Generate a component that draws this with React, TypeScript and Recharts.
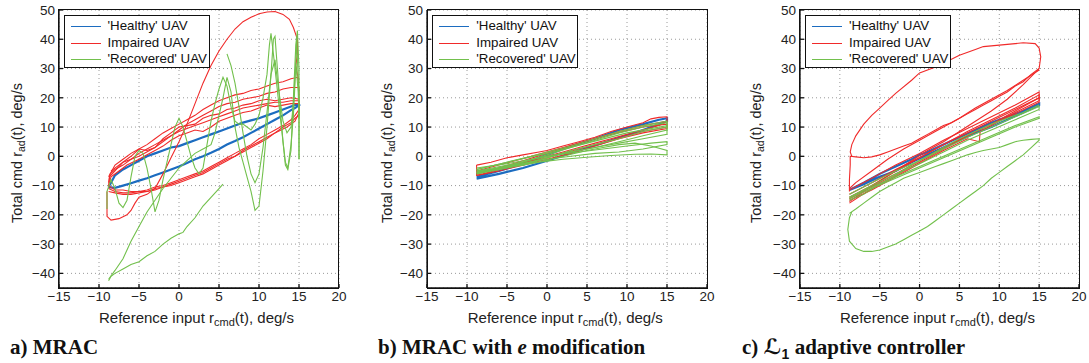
import React from 'react';
import { LineChart, Line, XAxis, YAxis, CartesianGrid } from 'recharts';

type Pt = [number, number];

const xTicks = [-15, -10, -5, 0, 5, 10, 15, 20];
const yTicks = [-40, -30, -20, -10, 0, 10, 20, 30, 40, 50];
const xDomain: [number, number] = [-15, 20];
const yDomain: [number, number] = [-45, 50];

const seriesNames = ["'Healthy' UAV", 'Impaired UAV', "'Recovered' UAV"];
const seriesColors = ['#1c6cc0', '#f02a2a', '#72c04c'];

// ---- a) MRAC ----
const mracHealthy: Pt[] = [
  [-8.8, -10.5], [-8.5, -9], [-8, -6.5], [-7, -4.5], [-6, -3], [-5, -1.5], [-4, 0], [-3, 1], [-2, 2], [-1, 3],
  [0, 3.5], [1, 4.5], [2, 5.5], [3, 6.5], [4, 7.5], [5, 8.5], [6, 9.5], [7, 10.5], [8, 11.5], [9, 12.3],
  [10, 13], [11, 14], [12, 15], [13, 16], [14, 17], [14.8, 17.8], [15, 17.5], [14.5, 16.5], [14, 15.8],
  [13, 14], [12, 12.5], [11, 11], [10, 9.5], [9, 8], [8, 6.5], [7, 5.2], [6, 4], [5, 2.5], [4, 1.2],
  [3, 0], [2, -1], [1, -2.3], [0, -3.5], [-1, -4.5], [-2, -5.5], [-3, -6.5], [-4, -7.5], [-5, -8.3],
  [-6, -9.2], [-7, -10], [-8, -10.8], [-8.8, -10.5],
];

const mracImpairedBand1: Pt[] = [
  [-8.8, -9], [-8.6, -6], [-8, -4.5], [-7, -3], [-6, -1], [-5, 1], [-4, 2.5], [-3, 4], [-2, 5.5], [-1, 7],
  [0, 8.5], [1, 9.5], [2, 10.5], [3, 11.5], [4, 12.5], [5, 13.5], [6, 14.5], [7, 15.5], [8, 16.5], [9, 17],
  [10, 17.5], [11, 18], [12, 18.5], [13, 18.5], [14, 19], [15, 19], [15, 16], [14.5, 14], [14, 12.5],
  [13, 10.5], [12, 9], [11, 7.5], [10, 6], [9, 4], [8, 2.5], [7, 1], [6, -0.5], [5, -2], [4, -3.5],
  [3, -5], [2, -6], [1, -7], [0, -8], [-1, -9], [-2, -10], [-3, -10.5], [-4, -11.5], [-5, -12],
  [-6, -12.5], [-7, -12.5], [-8, -12], [-8.8, -11],
];
const mracImpairedBand2: Pt[] = [
  [-8.8, -11], [-8.7, -7], [-8, -5], [-7, -2], [-6, 0], [-5, 2.5], [-4, 2], [-3, 3], [-2, 6], [-1, 8],
  [0, 10], [1, 10.5], [2, 11], [3, 13], [4, 14], [5, 14.5], [6, 16], [7, 16.5], [8, 17.5], [9, 18],
  [10, 19], [11, 19.5], [12, 19], [13, 19.5], [14, 20], [15, 19.5], [15, 14], [14.5, 13], [14, 11.5],
  [13, 10], [12, 8], [11, 6.5], [10, 5], [9, 3.5], [8, 2], [7, 0], [6, -1], [5, -2.5], [4, -4],
  [3, -5.5], [2, -6.5], [1, -7.5], [0, -8.5], [-1, -9.5], [-2, -10.5], [-3, -11.5], [-4, -12],
  [-5, -12.5], [-6, -13], [-7, -13], [-8, -12.5], [-8.8, -12],
];
const mracImpairedBand3: Pt[] = [
  [-8.8, -10], [-8.5, -7], [-7.5, -5], [-6.5, -3], [-5, -1], [-4, 0.5], [-3, 2], [-2, 3.5], [-1, 5.5],
  [0, 7], [1, 8], [2, 9], [3, 8.5], [4, 10], [5, 12], [6, 13], [7, 14], [8, 15], [9, 15.5], [10, 16.5],
  [11, 17.5], [12, 17], [13, 17.5], [14, 18], [15, 18], [15, 15], [14.5, 12], [13.5, 10], [12, 8],
  [11, 6], [10, 4.5], [9, 3], [8, 1.5], [7, 0], [6, -1.5], [5, -3], [4, -4.5], [3, -6], [2, -7],
  [1, -8], [0, -9], [-1, -10], [-2, -10.5], [-3, -11], [-4, -12], [-5, -12], [-6, -12], [-7, -11.5],
  [-8, -11.5], [-8.8, -10],
];
const mracImpairedOuter1: Pt[] = [
  [-8.8, -7], [-8, -3], [-7, -1], [-6, 1], [-5, 2.5], [-4, 4], [-3, 6], [-2, 8], [-1, 9.5], [0, 11],
  [1, 12.5], [2, 14], [3, 16], [4, 17.5], [5, 19], [6, 20], [7, 21], [8, 21.5], [9, 22.5], [10, 23],
  [11, 24], [12, 25], [13, 25.5], [14, 26.5], [14.8, 27], [15, 25],
];
const mracImpairedOuter2: Pt[] = [
  [-8.5, -5], [-7, -2], [-5, 0], [-3, 3], [-1, 7], [0, 9], [1, 11], [2, 12.5], [3, 14], [4, 15.5],
  [5, 17], [6, 18], [7, 18.5], [8, 19.5], [9, 20], [10, 20.5], [11, 21.5], [12, 22], [13, 23],
  [14, 23.5], [15, 23.5], [15, 20],
];
const mracImpairedBigLoop: Pt[] = [
  [-9, -12], [-9, -17], [-9, -20.5], [-8.5, -21.8], [-7.5, -21.3], [-6.5, -20], [-6, -18.5], [-5.5, -16],
  [-5, -14], [-4, -13], [-3, -11], [-2, -6], [-1, -0.5], [0, 5], [1, 11], [2, 18], [3, 25], [4, 31],
  [5, 36], [6, 40], [7, 43.5], [8, 46], [9, 47.5], [10, 48.7], [11, 49.3], [12, 49.5], [13, 48.5],
  [13.8, 46.8], [14.3, 44], [14.8, 40], [14.8, 35], [14.6, 31], [14.8, 28], [15, 26],
];

const mracRecoveredDiag: Pt[] = [
  [-8.8, -42.5], [-8.5, -41], [-8, -40], [-7, -38.5], [-6, -37], [-5, -36], [-4, -34], [-3, -32.5],
  [-2, -30], [-1, -28], [0, -26.5], [0.5, -26], [1, -24], [2, -21], [3, -17], [4, -14], [5, -11], [5.5, -9.5],
];
const mracRecoveredSteep: Pt[] = [
  [-8.8, -42], [-8, -39], [-7, -35], [-6, -29], [-5, -24], [-4, -19], [-3, -15], [-2, -11], [-1, -7.5],
  [0, -4], [1, -1.5], [2, 1], [3, 2.5], [4, 4], [4.5, 8], [5, 14], [5.5, 20], [6, 27], [6.5, 22], [7, 10],
  [7.5, 3], [8, -2], [8.5, -7], [9, -12], [9.5, -18.5], [10, -17], [10.5, -5], [11, 10], [11.5, 28],
  [11.8, 40], [12, 41], [12.3, 30], [12.7, 15], [13, 5], [13.3, -3], [13.6, -4.5], [14, 2], [14.3, 20],
  [14.6, 38], [14.8, 43], [15, 30], [15, 10], [15, -1],
];
const mracRecoveredOsc: Pt[] = [
  [-9, -18], [-9, -12], [-8.5, -8], [-8, -11], [-7.5, -16], [-7, -17.5], [-6.5, -15], [-6, -7], [-5.5, 0],
  [-5, 2], [-4.5, 1], [-4, -4], [-3.5, -11], [-3, -19], [-2.5, -15], [-2, -8], [-1.5, -2], [-1, 4],
  [-0.5, 10], [0, 13], [0.5, 10], [1, 5], [1.5, 0], [2, -4], [2.5, -6], [3, -4], [3.5, 4], [4, 12],
  [4.5, 18], [5, 23], [5.5, 27], [6, 24], [6.5, 17], [7, 12], [7.5, 11], [8, 11], [8.5, 10], [9, 9],
  [9.5, 11], [10, 14], [10.5, 20], [11, 28], [11.3, 38], [11.5, 42], [11.8, 35], [12.2, 25], [12.6, 15],
  [13, 5], [13.3, -2], [13.6, -4], [14, 4], [14.3, 14], [14.5, 25], [14.7, 40], [15, 20], [15, -1],
];
const mracRecoveredLate: Pt[] = [
  [6, 35], [6.5, 31], [7, 25], [7.5, 17], [8, 8], [8.5, 0], [9, -6], [9.5, -9], [10, -6], [10.5, 3],
  [11, 15], [11.5, 28], [12, 33], [12.3, 26], [12.7, 18], [13, 12], [13.5, 8], [14, 10], [14.3, 18],
  [14.6, 32], [14.9, 22], [15, 13],
];

// ---- b) MRAC with e modification ----
const emodHealthy: Pt[] = [
  [-8.8, -7], [-6, -5], [-3, -2.5], [0, 0.5], [3, 3.5], [6, 6], [9, 9], [12, 11], [14, 12.5], [15, 13],
  [15, 12], [12, 9], [8, 5.5], [4, 2], [0, -1.5], [-3, -4], [-6, -6], [-8.8, -7.6],
];
const emodImpaired1: Pt[] = [
  [-8.8, -3], [-7, -2], [-5, -0.5], [-3, 0.5], [-1, 1.5], [0, 2], [2, 3.5], [4, 5], [6, 6.5], [8, 8.5],
  [10, 10], [12, 11.5], [13, 12.8], [14, 13.3], [15, 13.5], [15, 12], [14, 10.5], [12, 9], [10, 7.5],
  [8, 6], [6, 4.5], [4, 3], [2, 1.5], [0, 0], [-2, -1.5], [-4, -3], [-6, -4.5], [-8, -6], [-8.8, -6.5], [-8.8, -3],
];
const emodImpaired2: Pt[] = [
  [-8.8, -6], [-6, -4], [-3, -1.5], [0, 1], [3, 3.5], [6, 6], [9, 8.5], [12, 10.5], [15, 12], [15, 9.5],
  [12, 8], [9, 6], [6, 3.5], [3, 1], [0, -1], [-3, -3], [-6, -5], [-8.8, -6.5],
];
const emodImpaired3: Pt[] = [
  [-8.8, -5], [-4, -1.5], [0, 1.5], [4, 4.5], [8, 7.5], [12, 10], [15, 11], [15, 10], [12, 8.5], [8, 5.5],
  [4, 2.5], [0, -0.5], [-4, -3], [-8.8, -5.5],
];
const emodRecovered1: Pt[] = [
  [-8.8, -6], [-6, -4], [-3, -2], [0, 0.5], [3, 3], [6, 5.5], [9, 8], [12, 10], [15, 11.5], [15, 10],
  [12, 8.5], [9, 6], [6, 4], [3, 2], [0, -0.5], [-3, -2.5], [-6, -4.5], [-8.8, -5.5],
];
const emodRecovered2: Pt[] = [
  [-8.8, -4.5], [-5, -2], [-2, 0], [0, 1.5], [3, 3.5], [6, 6], [9, 8.5], [12, 10.5], [15, 12], [15, 9],
  [12, 7], [9, 5], [6, 3], [3, 1.5], [0, -0.5], [-3, -3], [-8.8, -5],
];
const emodRecovered3: Pt[] = [
  [-8.8, -4], [-5, -2.5], [-2, -1], [1, 0.5], [4, 1.5], [7, 2.5], [10, 3.5], [13, 4.5], [15, 5], [15, 4],
  [12, 2.5], [9, 1.5], [6, 1], [3, 0], [0, -1], [-3, -2.5], [-6, -4], [-8.8, -5.5],
];
const emodRecovered4: Pt[] = [
  [-8.8, -5.5], [-6, -4], [-4, -3], [-1, -2], [2, -1], [5, -0.3], [8, 0.3], [11, 0.7], [13, 0.8],
  [15, 0.5], [15, 2], [13, 3.5], [11, 4.5], [9, 4], [7, 3], [5, 2], [2, 0], [-1, -2], [-4, -3.5], [-8.8, -6],
];
const emodRecovered5: Pt[] = [
  [-8.8, -4.5], [-5, -2], [0, 1], [5, 4.5], [10, 8], [15, 10.5], [15, 7.5], [12, 6], [9, 4.5], [6, 3],
  [3, 1.5], [0, 0], [-4, -2.5], [-8.8, -5],
];

// ---- c) L1 adaptive controller ----
const l1Healthy: Pt[] = [
  [-8.8, -11.5], [-7, -9], [-5, -6], [-3, -3.5], [-1, -1], [0, 0.5], [1, 1.5], [3, 4], [5, 6.5], [7, 9],
  [9, 11.5], [11, 13.5], [13, 15.5], [15, 18], [15, 17.5], [13, 15], [11, 12.5], [9, 10], [7, 8], [5, 5.5],
  [3, 3], [1, 0.5], [-1, -2], [-3, -5], [-5, -7], [-7, -9.5], [-8.8, -11.5],
];
const l1ImpairedLoop: Pt[] = [
  [-8.8, -12], [-8.8, -8], [-8.7, -3], [-8.7, 0], [-8, -0.2], [-7, -0.5], [-6, -0.2], [-5, 0.5], [-4, 1.5],
  [-3, 2.5], [-2, 3.5], [-1, 4.5], [0, 6], [1, 7.5], [2, 9], [3, 10.5], [4, 11.5], [5, 13], [6, 14.5],
  [7, 16], [8, 17.5], [9, 19], [10, 20.5], [11, 22], [12, 24], [13, 25.5], [14, 28], [15, 30], [15.2, 34],
  [15, 37], [14.5, 38.5], [13, 38.8], [12, 38.5], [10, 38], [8, 37.5], [7, 36.5], [5, 34.5], [3.5, 32.5],
  [2, 30.5], [0, 28.5], [-1, 26], [-3, 21.5], [-4, 19], [-5, 16.5], [-6, 14], [-7, 11], [-8, 7],
  [-8.5, 4], [-8.7, 1.5], [-8.5, 0],
];
const l1ImpairedReturn1: Pt[] = [
  [15, 29.5], [13, 26], [11, 22.5], [9, 19.5], [7, 16.5], [5, 13], [3, 10], [1, 7], [0, 5.5], [-2, 2.5],
  [-4, -1], [-6, -5], [-8, -9], [-8.8, -11],
];
const l1ImpairedReturn2: Pt[] = [
  [15, 30], [13, 24.5], [11, 19.5], [9, 15.5], [7, 12], [5, 8.5], [3, 5], [1, 2], [-1, -1.5], [-3, -5],
  [-5, -8.5], [-7, -12], [-8.8, -15.5],
];
const l1ImpairedBand1: Pt[] = [
  [-8.8, -11.5], [-6, -7.5], [-3, -3], [0, 1], [3, 5.5], [6, 9.5], [9, 13.5], [12, 17.5], [15, 22],
  [15, 20], [12, 16], [9, 12], [6, 8], [3, 4], [0, -0.5], [-3, -4.5], [-6, -9], [-8.8, -13],
];
const l1ImpairedBand2: Pt[] = [
  [-8.8, -16], [-6, -11], [-3, -6.5], [0, -2], [3, 2.5], [6, 7], [9, 11], [12, 15.5], [15, 20], [15, 19],
  [12, 15], [9, 10.5], [7.6, 8.5], [7.5, 5], [6, 6], [3, 2], [0, -2.5], [-3, -7], [-6, -11.5], [-8.8, -15],
];
const l1ImpairedBand3: Pt[] = [
  [-8.8, -14], [-6, -10], [-3, -5], [0, -0.5], [3, 4], [6, 8.5], [9, 12.5], [12, 16.5], [15, 21],
  [15, 18.5], [12, 14.5], [9, 11], [6, 7], [3, 3], [0, -1.5], [-3, -6], [-6, -10.5], [-8.8, -14.5],
];
const l1RecoveredLoop: Pt[] = [
  [-8.8, -19.5], [-8, -18], [-7, -16], [-6, -14], [-5, -12], [-4, -10.5], [-3, -9], [-2, -7.5], [-1, -6.5],
  [0, -5.5], [1, -4.5], [2, -3.5], [3, -2.5], [4, -1.5], [5, -0.5], [6, 0.5], [7, 1.3], [8, 2], [9, 2.5],
  [10, 3], [11, 4], [12, 5], [13, 5.5], [14, 5.8], [15, 6], [15, 5.5], [14, 3], [13, 0.5], [12, -1.5],
  [11, -3.5], [10, -5.5], [9, -7.5], [8, -10], [7, -12], [6, -14], [5, -16], [4, -18], [3, -20], [2, -22],
  [1, -24], [0, -25.5], [-1, -27], [-2, -28.5], [-3, -30], [-4, -31], [-5, -32], [-6, -32.5], [-7, -32.5],
  [-8, -31.5], [-8.8, -29], [-9, -25], [-8.8, -21], [-8.5, -19],
];
const l1Recovered1: Pt[] = [
  [-8.8, -14], [-6, -10.5], [-3, -7], [0, -3.5], [3, 0], [6, 3.5], [9, 7], [12, 10.5], [15, 13.5],
  [15, 13], [12, 10], [9, 6.5], [6, 3], [3, -0.5], [0, -4], [-3, -7.5], [-6, -11], [-8.8, -14.5],
];
const l1Recovered2: Pt[] = [
  [-8.8, -13], [-6, -9], [-3, -5], [0, -1.5], [3, 2.5], [6, 6.5], [9, 10], [12, 13.5], [15, 17],
  [15, 16], [12, 12.5], [9, 9], [6, 5.5], [3, 1.5], [0, -2.5], [-3, -6], [-6, -10], [-8.8, -14],
];
const l1Recovered3: Pt[] = [
  [-8.8, -15], [-7, -13], [-5, -9.5], [-3, -6.5], [-1, -3], [1, 0], [3, 3], [5, 6], [7, 8.5], [9, 11],
  [11, 13], [13, 15], [15, 17.5],
];

interface PanelSpec {
  plotLeft: number;
  plotWidth: number;
  yTitleOffset: number;
  healthy: Pt[][];
  impaired: Pt[][];
  recovered: Pt[][];
  caption: React.ReactNode;
  captionLeft: number;
}

const PLOT_TOP = 10;
const PLOT_HEIGHT = 278;
const sans = '"Liberation Sans", Arial, Helvetica, sans-serif';
const serif = '"Liberation Serif", "Times New Roman", serif';
const frame = { stroke: '#111', strokeWidth: 1.3 };

const toRows = (pts: Pt[]) => pts.map(([x, y]) => ({ x, y }));
const minusFmt = (v: number) => (v < 0 ? `\u2212${-v}` : `${v}`);

function Legend({ left }: { left: number }) {
  return (
    <div
      style={{
        position: 'absolute', left, top: 15, width: 144, height: 51,
        border: '1.5px solid #111', background: '#fff', fontFamily: sans, fontSize: 13.3, color: '#111',
      }}
    >
      {seriesNames.map((name, i) => (
        <div key={name} style={{ position: 'absolute', left: 0, top: 2 + i * 16.5, height: 16, width: '100%' }}>
          <div style={{ position: 'absolute', left: 6, top: 8, width: 30, borderTop: `1.5px solid ${seriesColors[i]}` }} />
          <div style={{ position: 'absolute', left: 43, top: 0, lineHeight: '16px', whiteSpace: 'nowrap' }}>{name}</div>
        </div>
      ))}
    </div>
  );
}

function Panel({ spec }: { spec: PanelSpec }) {
  const { plotLeft, plotWidth } = spec;
  const chartLeft = plotLeft - 60;
  const groups: [Pt[][], string, number][] = [
    [spec.healthy, seriesColors[0], 2.2],
    [spec.impaired, seriesColors[1], 1.1],
    [spec.recovered, seriesColors[2], 1.1],
  ];
  const tickStyle = { fontSize: 13.5, fontFamily: sans, fill: '#222' };
  return (
    <>
      <div style={{ position: 'absolute', left: chartLeft, top: 0 }}>
        <LineChart width={plotWidth + 70} height={PLOT_TOP + PLOT_HEIGHT + 30} margin={{ top: PLOT_TOP, right: 10, bottom: 0, left: 20 }}>
          <CartesianGrid xAxisId="b" yAxisId="l" stroke="#9a9a9a" strokeDasharray="1 3" />
          {/* negative tickSize turns the ticks inwards; tickMargin pushes labels back out */}
          <XAxis xAxisId="b" dataKey="x" type="number" domain={xDomain} ticks={xTicks} allowDataOverflow
            height={30} tickSize={-4} tickMargin={7} tick={tickStyle} axisLine={frame} tickLine={frame}
            tickFormatter={minusFmt} />
          <YAxis yAxisId="l" type="number" domain={yDomain} ticks={yTicks} allowDataOverflow width={40}
            tickSize={-4} tickMargin={8} tick={tickStyle} axisLine={frame} tickLine={frame}
            tickFormatter={minusFmt} />
          {groups.map(([traces, color, w], gi) =>
            traces.map((t, ti) => (
              <Line key={`${gi}-${ti}`} xAxisId="b" yAxisId="l" data={toRows(t)} dataKey="y" type="linear"
                stroke={color} strokeWidth={w} dot={false} isAnimationActive={false} />
            ))
          )}
        </LineChart>
      </div>
      {/* axes box */}
      <div
        style={{
          position: 'absolute', left: plotLeft - 0.7, top: PLOT_TOP - 0.7, width: plotWidth + 1.4,
          height: PLOT_HEIGHT + 1.4, boxSizing: 'border-box', border: '1.4px solid #111', pointerEvents: 'none',
        }}
      />
      <Legend left={plotLeft + 5} />
      <div
        style={{
          position: 'absolute', left: plotLeft + plotWidth / 2 - 2, top: 310, transform: 'translateX(-50%)',
          fontFamily: sans, fontSize: 15, lineHeight: '15px', color: '#222', whiteSpace: 'nowrap',
        }}
      >
        Reference input r<sub style={{ fontSize: 11, verticalAlign: '-3px' }}>cmd</sub>(t), deg/s
      </div>
      <div
        style={{
          position: 'absolute', left: plotLeft + spec.yTitleOffset, top: 153,
          transform: 'translate(-50%, -50%) rotate(-90deg)',
          fontFamily: sans, fontSize: 14.5, lineHeight: '15px', color: '#222', whiteSpace: 'nowrap',
        }}
      >
        Total cmd r<sub style={{ fontSize: 10.5, verticalAlign: '-3px' }}>ad</sub>(t), deg/s
      </div>
      <div
        style={{
          position: 'absolute', left: spec.captionLeft, top: 337, fontFamily: serif, fontWeight: 'bold',
          fontSize: 21, lineHeight: '21px', color: '#111', whiteSpace: 'nowrap',
        }}
      >
        {spec.caption}
      </div>
    </>
  );
}

const panels: PanelSpec[] = [
  {
    plotLeft: 58.5, plotWidth: 280, yTitleOffset: -40,
    healthy: [mracHealthy],
    impaired: [mracImpairedBand1, mracImpairedBand2, mracImpairedBand3, mracImpairedOuter1, mracImpairedOuter2, mracImpairedBigLoop],
    recovered: [mracRecoveredDiag, mracRecoveredSteep, mracRecoveredOsc, mracRecoveredLate],
    caption: 'a) MRAC', captionLeft: 10,
  },
  {
    plotLeft: 427.3, plotWidth: 280, yTitleOffset: -38,
    healthy: [emodHealthy],
    impaired: [emodImpaired1, emodImpaired2, emodImpaired3],
    recovered: [emodRecovered1, emodRecovered2, emodRecovered3, emodRecovered4, emodRecovered5],
    caption: (
      <>b) MRAC with <i>e</i> modification</>
    ),
    captionLeft: 378,
  },
  {
    plotLeft: 800, plotWidth: 279, yTitleOffset: -42,
    healthy: [l1Healthy],
    impaired: [l1ImpairedLoop, l1ImpairedReturn1, l1ImpairedReturn2, l1ImpairedBand1, l1ImpairedBand2, l1ImpairedBand3],
    recovered: [l1RecoveredLoop, l1Recovered1, l1Recovered2, l1Recovered3],
    caption: (
      <>
        c) <span style={{ fontFamily: '"DejaVu Sans", sans-serif' }}>ℒ</span>
        <sub style={{ fontSize: 14, fontFamily: sans }}>1</sub> adaptive controller
      </>
    ),
    captionLeft: 742,
  },
];

export default function App() {
  return (
    <div style={{ position: 'fixed', left: 0, top: 0, width: 1089, height: 363, background: '#fff', overflow: 'hidden' }}>
      {panels.map((p, i) => (
        <Panel key={i} spec={p} />
      ))}
    </div>
  );
}
